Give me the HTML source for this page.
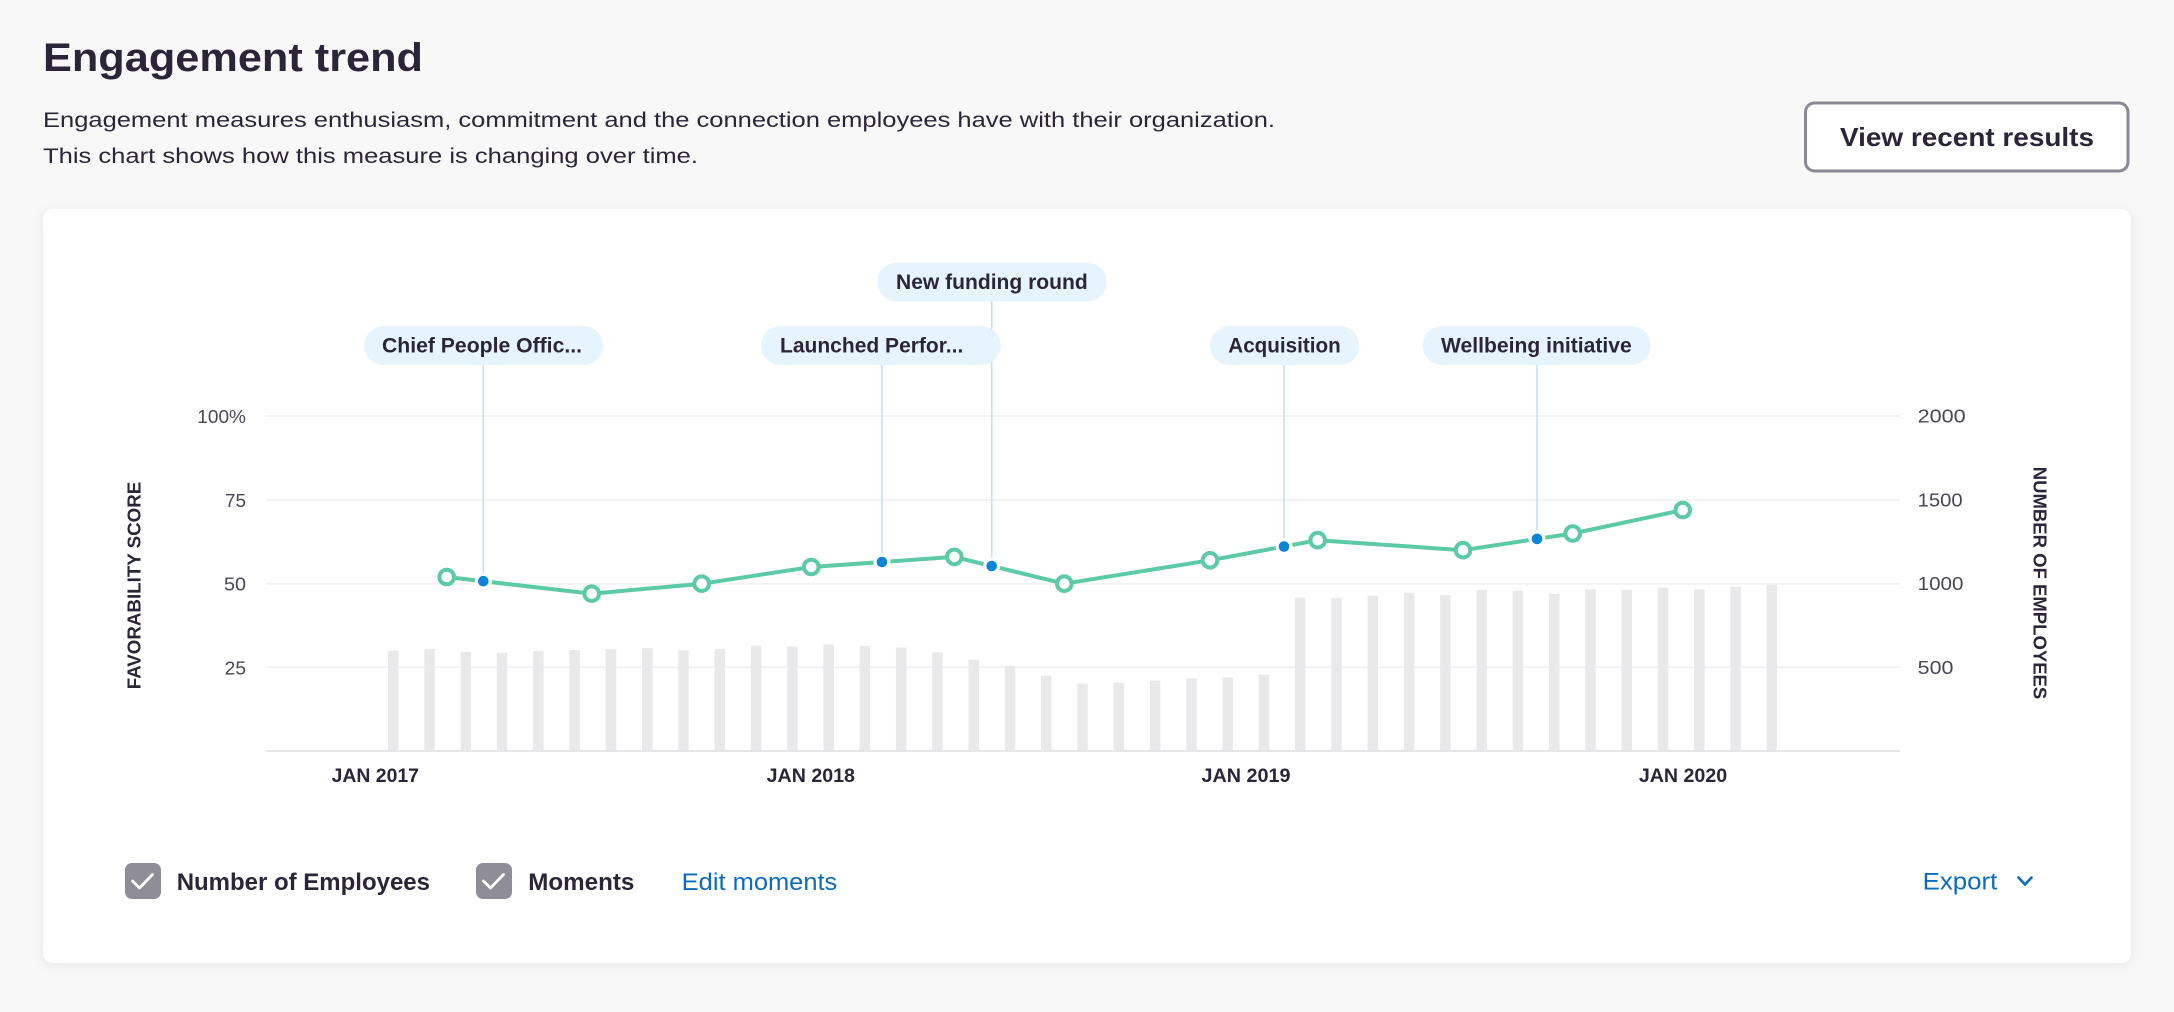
<!DOCTYPE html>
<html><head><meta charset="utf-8"><style>
html,body{margin:0;padding:0;background:#f8f8f8;}
svg{display:block;font-family:"Liberation Sans",Arial,sans-serif;}
</style></head><body>
<svg width="2174" height="1012" viewBox="0 0 2174 1012" xmlns="http://www.w3.org/2000/svg">
<defs>
<filter id="sh" x="-3%" y="-5%" width="106%" height="112%">
<feDropShadow dx="0" dy="2" stdDeviation="5" flood-color="#000" flood-opacity="0.08"/>
</filter>
</defs>
<rect width="2174" height="1012" fill="#f8f8f8"/>

<!-- Header -->
<text x="43" y="71" font-size="40" font-weight="700" fill="#2b2539" textLength="380" lengthAdjust="spacingAndGlyphs">Engagement trend</text>
<text x="43" y="127" font-size="21" fill="#2b2539" textLength="1232" lengthAdjust="spacingAndGlyphs">Engagement measures enthusiasm, commitment and the connection employees have with their organization.</text>
<text x="43" y="163" font-size="21" fill="#2b2539" textLength="655" lengthAdjust="spacingAndGlyphs">This chart shows how this measure is changing over time.</text>

<rect x="1805.5" y="103" width="322.5" height="68" rx="9" fill="#fff" stroke="#8b8995" stroke-width="3"/>
<text x="1840" y="146" font-size="26" font-weight="700" fill="#2b2539" textLength="254" lengthAdjust="spacingAndGlyphs">View recent results</text>

<!-- Card -->
<rect x="43" y="209" width="2088" height="754" rx="10" fill="#fff" filter="url(#sh)"/>

<!-- Grid -->
<g stroke="#f2f2f4" stroke-width="2">
<line x1="266" x2="1900" y1="416" y2="416"/>
<line x1="266" x2="1900" y1="500" y2="500"/>
<line x1="266" x2="1900" y1="583.7" y2="583.7"/>
<line x1="266" x2="1900" y1="667.3" y2="667.3"/>
</g>

<!-- Bars -->
<g fill="#e9e9eb">
<rect x="388.0" y="650.7" width="10.5" height="100.3"/>
<rect x="424.3" y="649.0" width="10.5" height="102.0"/>
<rect x="460.6" y="652.0" width="10.5" height="99.0"/>
<rect x="496.8" y="652.7" width="10.5" height="98.3"/>
<rect x="533.1" y="651.0" width="10.5" height="100.0"/>
<rect x="569.4" y="650.0" width="10.5" height="101.0"/>
<rect x="605.7" y="649.0" width="10.5" height="102.0"/>
<rect x="642.0" y="648.2" width="10.5" height="102.8"/>
<rect x="678.2" y="650.3" width="10.5" height="100.7"/>
<rect x="714.5" y="649.2" width="10.5" height="101.8"/>
<rect x="750.8" y="645.7" width="10.5" height="105.3"/>
<rect x="787.1" y="646.4" width="10.5" height="104.6"/>
<rect x="823.4" y="644.6" width="10.5" height="106.4"/>
<rect x="859.6" y="646.0" width="10.5" height="105.0"/>
<rect x="895.9" y="647.5" width="10.5" height="103.5"/>
<rect x="932.2" y="652.4" width="10.5" height="98.6"/>
<rect x="968.5" y="659.8" width="10.5" height="91.2"/>
<rect x="1004.8" y="665.8" width="10.5" height="85.2"/>
<rect x="1041.0" y="675.6" width="10.5" height="75.4"/>
<rect x="1077.3" y="683.4" width="10.5" height="67.6"/>
<rect x="1113.6" y="682.7" width="10.5" height="68.3"/>
<rect x="1149.9" y="680.6" width="10.5" height="70.4"/>
<rect x="1186.2" y="678.4" width="10.5" height="72.6"/>
<rect x="1222.4" y="677.4" width="10.5" height="73.6"/>
<rect x="1258.7" y="674.6" width="10.5" height="76.4"/>
<rect x="1295.0" y="597.8" width="10.5" height="153.2"/>
<rect x="1331.3" y="598.1" width="10.5" height="152.9"/>
<rect x="1367.6" y="595.7" width="10.5" height="155.3"/>
<rect x="1403.8" y="592.8" width="10.5" height="158.2"/>
<rect x="1440.1" y="595.0" width="10.5" height="156.0"/>
<rect x="1476.4" y="590.0" width="10.5" height="161.0"/>
<rect x="1512.7" y="590.7" width="10.5" height="160.3"/>
<rect x="1549.0" y="593.9" width="10.5" height="157.1"/>
<rect x="1585.2" y="589.3" width="10.5" height="161.7"/>
<rect x="1621.5" y="590.0" width="10.5" height="161.0"/>
<rect x="1657.8" y="587.5" width="10.5" height="163.5"/>
<rect x="1694.1" y="589.3" width="10.5" height="161.7"/>
<rect x="1730.4" y="586.9" width="10.5" height="164.1"/>
<rect x="1766.6" y="584.7" width="10.5" height="166.3"/>
</g>

<!-- Baseline -->
<line x1="266" x2="1900" y1="751" y2="751" stroke="#e6e6e8" stroke-width="2"/>

<!-- Left ticks -->
<g font-size="18.5" fill="#4a4655" text-anchor="end">
<text x="246" y="423" textLength="48.7" lengthAdjust="spacingAndGlyphs">100%</text>
<text x="246" y="507" textLength="21" lengthAdjust="spacingAndGlyphs">75</text>
<text x="246" y="590.7" textLength="22" lengthAdjust="spacingAndGlyphs">50</text>
<text x="246" y="674.3" textLength="21.3" lengthAdjust="spacingAndGlyphs">25</text>
</g>
<!-- Right ticks -->
<g font-size="18.5" fill="#4a4655">
<text x="1917.7" y="422.5" textLength="48" lengthAdjust="spacingAndGlyphs">2000</text>
<text x="1917.7" y="506.5" textLength="45" lengthAdjust="spacingAndGlyphs">1500</text>
<text x="1917.7" y="590.2" textLength="45.7" lengthAdjust="spacingAndGlyphs">1000</text>
<text x="1917.7" y="673.8" textLength="35.7" lengthAdjust="spacingAndGlyphs">500</text>
</g>

<!-- X labels -->
<g font-size="19" font-weight="700" fill="#2b2539" text-anchor="middle">
<text x="375.3" y="782" textLength="87.3" lengthAdjust="spacingAndGlyphs">JAN 2017</text>
<text x="810.8" y="782" textLength="88.3" lengthAdjust="spacingAndGlyphs">JAN 2018</text>
<text x="1246" y="782" textLength="89" lengthAdjust="spacingAndGlyphs">JAN 2019</text>
<text x="1683" y="782" textLength="88.3" lengthAdjust="spacingAndGlyphs">JAN 2020</text>
</g>

<!-- Axis titles -->
<text transform="translate(140.7,585.5) rotate(-90)" text-anchor="middle" font-size="18.5" font-weight="700" fill="#2b2539" textLength="207.6" lengthAdjust="spacingAndGlyphs">FAVORABILITY SCORE</text>
<text transform="translate(2033.5,583) rotate(90)" text-anchor="middle" font-size="18.5" font-weight="700" fill="#2b2539" textLength="232.5" lengthAdjust="spacingAndGlyphs">NUMBER OF EMPLOYEES</text>

<!-- Moment lines -->
<g stroke="#c3e2f6" stroke-width="1.6">
<line x1="483.3" x2="483.3" y1="365" y2="581"/>
<line x1="882" x2="882" y1="365" y2="562"/>
<line x1="991.7" x2="991.7" y1="301.5" y2="566"/>
<line x1="1284" x2="1284" y1="365" y2="546.5"/>
<line x1="1537" x2="1537" y1="365" y2="539"/>
</g>

<!-- Bubbles -->
<g fill="#e6f4fd">
<rect x="364" y="326" width="239" height="39" rx="19.5"/>
<rect x="761" y="326" width="239.7" height="39" rx="19.5"/>
<rect x="877.3" y="262.5" width="229.4" height="39" rx="19.5"/>
<rect x="1210" y="326" width="149.3" height="39" rx="19.5"/>
<rect x="1422.7" y="326" width="228" height="39" rx="19.5"/>
</g>
<g font-size="21" font-weight="700" fill="#2b2539">
<text x="382" y="352.5" textLength="200" lengthAdjust="spacingAndGlyphs">Chief People Offic...</text>
<text x="780" y="352.5" textLength="183.3" lengthAdjust="spacingAndGlyphs">Launched Perfor...</text>
<text x="896" y="289" textLength="191.7" lengthAdjust="spacingAndGlyphs">New funding round</text>
<text x="1228.3" y="352.5" textLength="112.4" lengthAdjust="spacingAndGlyphs">Acquisition</text>
<text x="1441" y="352.5" textLength="190.7" lengthAdjust="spacingAndGlyphs">Wellbeing initiative</text>
</g>

<!-- Line -->
<polyline fill="none" stroke="#5ccaa5" stroke-width="4" stroke-linejoin="round" stroke-linecap="round"
points="446.7,577 591.7,593.7 701.7,583.7 811.3,567 954.3,556.9 1064.3,583.7 1210,560.3 1317.7,540.2 1463,550.2 1572.7,533.5 1682.7,510.1"/>

<!-- Moment dots -->
<g fill="#fff">
<circle cx="483.3" cy="581.2" r="8.5"/>
<circle cx="882" cy="562" r="8.5"/>
<circle cx="991.7" cy="566" r="8.5"/>
<circle cx="1284" cy="546.5" r="8.5"/>
<circle cx="1537" cy="538.9" r="8.5"/>
</g>
<g fill="#0a84d8">
<circle cx="483.3" cy="581.2" r="5.3"/>
<circle cx="882" cy="562" r="5.3"/>
<circle cx="991.7" cy="566" r="5.3"/>
<circle cx="1284" cy="546.5" r="5.3"/>
<circle cx="1537" cy="538.9" r="5.3"/>
</g>

<!-- Points -->
<g fill="#fff" stroke="#5ccaa5" stroke-width="4">
<circle cx="446.7" cy="577" r="7.3"/>
<circle cx="591.7" cy="593.7" r="7.3"/>
<circle cx="701.7" cy="583.7" r="7.3"/>
<circle cx="811.3" cy="567" r="7.3"/>
<circle cx="954.3" cy="556.9" r="7.3"/>
<circle cx="1064.3" cy="583.7" r="7.3"/>
<circle cx="1210" cy="560.3" r="7.3"/>
<circle cx="1317.7" cy="540.2" r="7.3"/>
<circle cx="1463" cy="550.2" r="7.3"/>
<circle cx="1572.7" cy="533.5" r="7.3"/>
<circle cx="1682.7" cy="510.1" r="7.3"/>
</g>

<!-- Legend -->
<rect x="125" y="863" width="36" height="36" rx="7" fill="#8f8e98"/>
<polyline points="132.5,881 139.5,888 152.5,874.5" fill="none" stroke="#fff" stroke-width="2.8" stroke-linecap="round" stroke-linejoin="round"/>
<text x="176.7" y="890" font-size="24" font-weight="700" fill="#2b2539" textLength="253.3" lengthAdjust="spacingAndGlyphs">Number of Employees</text>

<rect x="476" y="863" width="36" height="36" rx="7" fill="#8f8e98"/>
<polyline points="483.5,881 490.5,888 503.5,874.5" fill="none" stroke="#fff" stroke-width="2.8" stroke-linecap="round" stroke-linejoin="round"/>
<text x="528.3" y="890" font-size="24" font-weight="700" fill="#2b2539" textLength="106" lengthAdjust="spacingAndGlyphs">Moments</text>

<text x="681.7" y="890" font-size="24" fill="#0b6cbf" textLength="155.6" lengthAdjust="spacingAndGlyphs">Edit moments</text>

<text x="1922.7" y="889.3" font-size="24" fill="#0b6cbf" textLength="74.6" lengthAdjust="spacingAndGlyphs">Export</text>
<polyline points="2018.5,877.5 2025,884.5 2031.5,877.5" fill="none" stroke="#0b6cbf" stroke-width="2.6" stroke-linecap="round" stroke-linejoin="round"/>
</svg>
</body></html>
